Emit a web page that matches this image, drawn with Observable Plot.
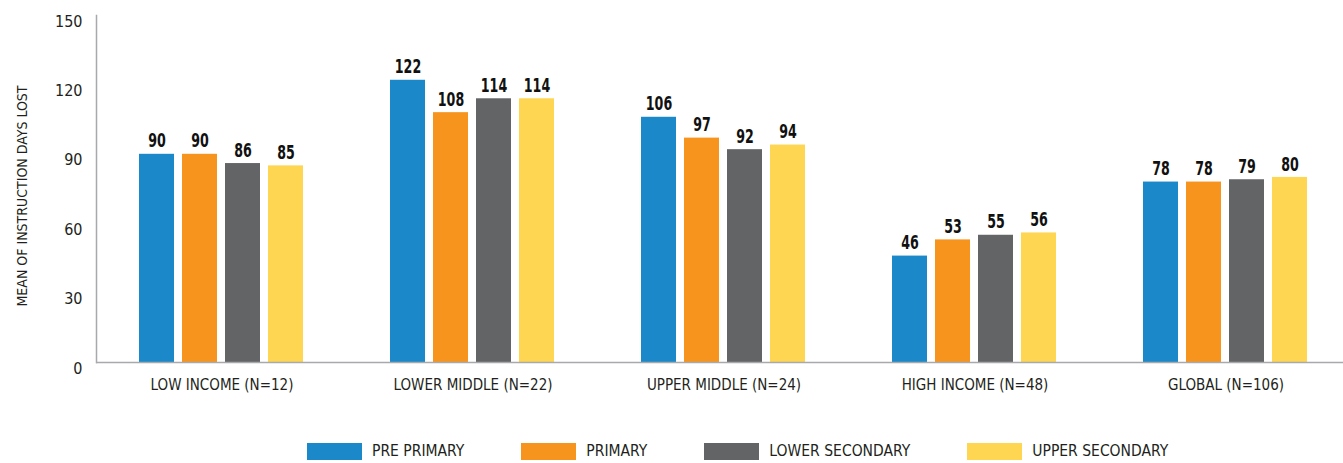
<!DOCTYPE html>
<html>
<head>
<meta charset="utf-8">
<script src="https://cdn.jsdelivr.net/npm/d3@7"></script>
<script src="https://cdn.jsdelivr.net/npm/@observablehq/plot@0.6"></script>
<style>
  html, body { margin: 0; padding: 0; background: #fff; }
  body { width: 1343px; height: 463px; overflow: hidden; font-family: "Liberation Sans Narrow", "DejaVu Sans Condensed", "Roboto Condensed", sans-serif; }
  #chart svg { display: block; }
  #legend { display: flex; align-items: center; height: 40px; padding-left: 307px; margin-top: 11px; }
  .item { display: flex; align-items: center; margin-right: 57px; }
  .sw { width: 55px; height: 17px; margin-right: 10px; }
  .lab { font-size: 15.5px; color: #231f20; line-height: 17px; }
</style>
</head>
<body>
<div id="chart"></div>
<div id="legend"></div>
<script>
const FONT = '"Liberation Sans Narrow", "DejaVu Sans Condensed", "Roboto Condensed", sans-serif';

const groups = ["LOW INCOME (N=12)", "LOWER MIDDLE (N=22)", "UPPER MIDDLE (N=24)", "HIGH INCOME (N=48)", "GLOBAL (N=106)"];
const series = ["PRE PRIMARY", "PRIMARY", "LOWER SECONDARY", "UPPER SECONDARY"];
const seriesColors = ["#1b88c9", "#f7941e", "#636466", "#fed652"];

const prePrimary     = [90, 122, 106, 46, 78];
const primary        = [90, 108, 97, 53, 78];
const lowerSecondary = [86, 114, 92, 55, 79];
const upperSecondary = [85, 114, 94, 56, 80];

const yTicks = [0, 30, 60, 90, 120, 150];
const yTitle = "MEAN OF INSTRUCTION DAYS LOST";

const seriesValues = [prePrimary, primary, lowerSecondary, upperSecondary];
const rows = [];
groups.forEach((g, i) => {
  series.forEach((s, j) => rows.push({group: g, series: s, value: seriesValues[j][i]}));
});

const plot = Plot.plot({
  width: 1343,
  height: 420,
  marginTop: 15,
  marginBottom: 58,
  marginLeft: 96,
  marginRight: 0,
  style: {fontFamily: FONT, color: "#231f20", background: "white", overflow: "visible"},
  fx: {domain: groups, range: [96, 1351], paddingInner: 0, paddingOuter: 0, label: null},
  x: {domain: series, paddingInner: 8 / 44, paddingOuter: 41.5 / 44, axis: null},
  y: {domain: [0, 150]},
  color: {domain: series, range: seriesColors},
  marks: [
    Plot.barY(rows, {fx: "group", x: "series", y: "value", fill: "series"}),
    Plot.ruleY([0], {stroke: "#a7a9ac", strokeWidth: 1.5}),
    Plot.frame({anchor: "left", facetAnchor: "left", stroke: "#a7a9ac", strokeWidth: 1.5}),
    Plot.text(rows, {fx: "group", x: "series", y: "value", text: d => String(d.value), dy: -13, fontWeight: "bold", fontSize: 19, fill: "#111"}),
    Plot.axisY({ticks: yTicks, tickSize: 0, tickPadding: 14, dy: 6, fontSize: 16, label: null, fill: "#231f20"}),
    Plot.axisY({ticks: [], label: yTitle, labelAnchor: "center", labelArrow: false, labelOffset: 79, fontSize: 14}),
    Plot.axisFx({anchor: "bottom", tickSize: 0, tickPadding: 17, fontSize: 15, label: null, fill: "#231f20"})
  ]
});
document.getElementById("chart").appendChild(plot);

// condense the bold value labels horizontally (the original uses a condensed bold face)
d3.select(plot).selectAll('g[font-weight="bold"] text').each(function() {
  const t = this.getAttribute("transform") || "";
  this.setAttribute("transform", t + " scale(0.74,1)");
});
// nudge the rotated y-axis title slightly down
d3.select(plot).selectAll("text").filter(function() { return this.textContent === yTitle; }).each(function() {
  const t = this.getAttribute("transform") || "";
  this.setAttribute("transform", t + " translate(-7,0)");
});

const legend = d3.select("#legend");
series.forEach((s, j) => {
  const it = legend.append("div").attr("class", "item");
  it.append("div").attr("class", "sw").style("background", seriesColors[j]);
  it.append("div").attr("class", "lab").text(s);
});
</script>
</body>
</html>
